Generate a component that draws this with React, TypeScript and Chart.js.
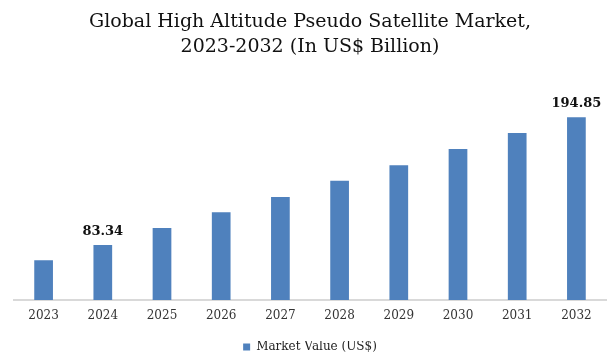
import React, { useEffect, useRef } from "react";
import { Chart, registerables } from "chart.js";

Chart.register(...registerables);

const titleLines = ["Global High Altitude Pseudo Satellite Market,", "2023-2032 (In US$ Billion)"];
const years = ["2023", "2024", "2025", "2026", "2027", "2028", "2029", "2030", "2031", "2032"];
const marketValues = [70.0, 83.34, 98.2, 111.9, 125.3, 139.5, 152.9, 167.2, 181.1, 194.85];
const labeledYears = ["2024", "2032"];
const seriesName = "Market Value (US$)";
const yMin = 35.3;
const yMax = 236.1;

const FONT = "'DejaVu Serif', serif";
const BAR_COLOR = "#4f81bd";

const valueLabelPlugin = {
  id: "valueLabels",
  afterDatasetsDraw(chart: any) {
    const ctx = chart.ctx;
    const meta = chart.getDatasetMeta(0);
    ctx.save();
    ctx.font = `bold 13px ${FONT}`;
    ctx.fillStyle = "#111111";
    ctx.textAlign = "center";
    ctx.textBaseline = "alphabetic";
    meta.data.forEach((bar: any, i: number) => {
      if (!labeledYears.includes(years[i])) return;
      ctx.fillText(marketValues[i].toFixed(2), bar.x, bar.y - 10);
    });
    ctx.restore();
  },
};

export default function App() {
  const canvasRef = useRef<HTMLCanvasElement | null>(null);

  useEffect(() => {
    const canvas = canvasRef.current;
    if (!canvas) return;
    const chart = new Chart(canvas, {
      type: "bar",
      data: {
        labels: years,
        datasets: [
          {
            label: seriesName,
            data: marketValues,
            backgroundColor: BAR_COLOR,
            borderWidth: 0,
            barPercentage: 0.316,
            categoryPercentage: 1,
          },
        ],
      },
      options: {
        responsive: false,
        animation: false,
        layout: { padding: { left: 14, right: 10, top: 0, bottom: 0 } },
        plugins: {
          title: {
            display: true,
            text: titleLines,
            color: "#111111",
            font: { family: FONT, size: 19, weight: "normal", lineHeight: 25 / 19 },
            padding: { top: 10, bottom: 10 },
          },
          legend: {
            display: true,
            position: "bottom",
            labels: {
              boxWidth: 7,
              boxHeight: 7,
              padding: 0,
              color: "#222222",
              font: { family: FONT, size: 12 },
            },
          },
          tooltip: { enabled: false },
        },
        scales: {
          x: {
            grid: { display: false, drawTicks: false },
            border: { display: true, color: "#d9d9d9", width: 2 },
            ticks: {
              color: "#333333",
              padding: 9,
              font: { family: FONT, size: 12 },
              maxRotation: 0,
            },
            afterFit: (axis: any) => {
              axis.height = 41;
            },
          },
          y: {
            display: false,
            min: yMin,
            max: yMax,
          },
        },
      },
      plugins: [valueLabelPlugin],
    });
    return () => chart.destroy();
  }, []);

  return (
    <canvas
      ref={canvasRef}
      width={616}
      height={363}
      style={{ position: "fixed", left: 0, top: 0, width: 616, height: 363 }}
    />
  );
}
